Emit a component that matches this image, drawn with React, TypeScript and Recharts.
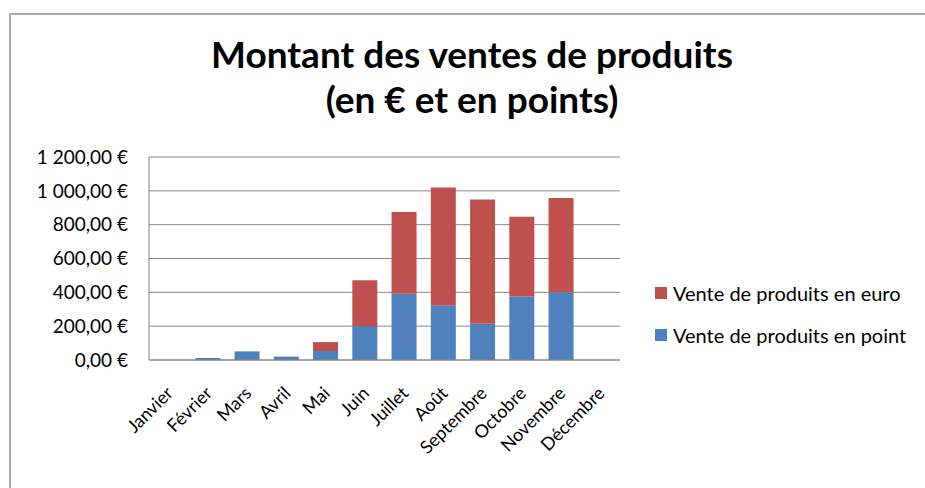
import React from 'react';
import { Bar, BarChart, CartesianGrid, XAxis, YAxis } from 'recharts';

const months = [
    'Janvier', 'Février', 'Mars', 'Avril', 'Mai', 'Juin',
    'Juillet', 'Août', 'Septembre', 'Octobre', 'Novembre', 'Décembre',
];
const pointValues = [0, 12, 51, 20, 53, 201, 392, 323, 214, 376, 400, 0];
const euroValues = [0, 0, 0, 0, 53, 270, 483, 697, 735, 471, 557, 0];
const yTicks = [0, 200, 400, 600, 800, 1000, 1200];

const data = months.map((month, i) => ({
    month,
    point: pointValues[i],
    euro: euroValues[i],
}));

const FONT = 'Lato, "Open Sans", sans-serif';
const BLUE = '#4F81BD';
const RED = '#C0504D';

const formatEuro = (v: number) => {
    const s = v.toFixed(2).replace('.', ',');
    const [int, dec] = s.split(',');
    const grouped = int.replace(/\B(?=(\d{3})+(?!\d))/g, ' ');
    return `${grouped},${dec} €`;
};

// rotated month labels, end of text hangs just under the bar
const MonthTick = (props: any) => {
    const { x, y, payload } = props;
    const px = x + 1;
    const py = y + 30;
    return (
        <text
            x={px}
            y={py}
            dy="0.35em"
            textAnchor="end"
            transform={`rotate(-45 ${px} ${py})`}
            fontSize={18}
            fontFamily={FONT}
            fill="#000"
        >
            {payload.value}
        </text>
    );
};

const legendItems = [
    { label: 'Vente de produits en euro', color: RED },
    { label: 'Vente de produits en point', color: BLUE },
];

export default function App() {
    return (
        <div style={{ position: 'absolute', left: 0, top: 0, width: 925, height: 488, background: '#fff', overflow: 'hidden' }}>
            {/* chart frame, runs off the right and bottom like the screenshot */}
            <div
                style={{
                    position: 'absolute',
                    left: 9,
                    top: 13,
                    width: 940,
                    height: 500,
                    borderLeft: '2px solid #ababab',
                    borderTop: '2px solid #ababab',
                }}
            />
            <div
                style={{
                    position: 'absolute',
                    left: 0,
                    top: 31,
                    width: 944,
                    textAlign: 'center',
                    fontFamily: FONT,
                    fontWeight: 700,
                    fontSize: 37,
                    lineHeight: '45px',
                    color: '#000',
                }}
            >
                <div>Montant des ventes de produits</div>
                <div>(en € et en points)</div>
            </div>
            <div style={{ position: 'absolute', left: 0, top: 0 }}>
                <BarChart
                    width={925}
                    height={488}
                    data={data}
                    margin={{ top: 157, right: 305, bottom: 0, left: 0 }}
                    barCategoryGap="18%"
                >
                    <CartesianGrid vertical={false} stroke="#868686" />
                    <XAxis
                        dataKey="month"
                        height={128}
                        tickSize={0}
                        tickMargin={0}
                        interval={0}
                        axisLine={{ stroke: '#868686' }}
                        tick={<MonthTick />}
                    />
                    <YAxis
                        width={149}
                        domain={[0, 1200]}
                        ticks={yTicks}
                        tickFormatter={formatEuro}
                        tickSize={0}
                        tickMargin={21}
                        axisLine={{ stroke: '#868686' }}
                        tick={{ fill: '#000', fontSize: 19, fontFamily: FONT }}
                    />
                    <Bar dataKey="point" stackId="a" fill={BLUE} isAnimationActive={false} />
                    <Bar dataKey="euro" stackId="a" fill={RED} isAnimationActive={false} />
                </BarChart>
            </div>
            <div style={{ position: 'absolute', left: 655, top: 272, fontFamily: FONT, fontSize: 20, color: '#000' }}>
                {legendItems.map((item) => (
                    <div key={item.label} style={{ display: 'flex', alignItems: 'center', height: 42 }}>
                        <span style={{ width: 12, height: 12, background: item.color, marginRight: 6, flexShrink: 0 }} />
                        <span style={{ whiteSpace: 'nowrap' }}>{item.label}</span>
                    </div>
                ))}
            </div>
        </div>
    );
}
